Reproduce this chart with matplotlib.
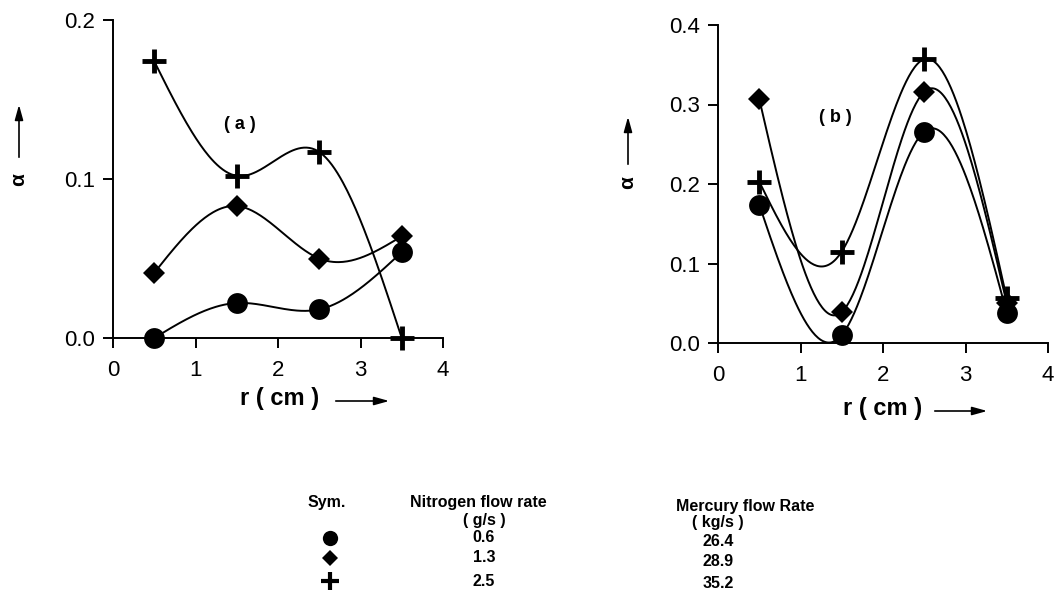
import matplotlib
matplotlib.use("Agg")
import matplotlib.pyplot as plt
import numpy as np

plt.rcParams['font.family'] = ['Liberation Sans', 'DejaVu Sans']

# radial positions (cm)
r = [0.5, 1.5, 2.5, 3.5]

# panel (a) void fraction
a_circle = [0.0, 0.022, 0.018, 0.054]
a_diamond = [0.041, 0.083, 0.050, 0.064]
a_plus = [0.174, 0.102, 0.117, 0.0]

# panel (b) void fraction
b_circle = [0.174, 0.010, 0.266, 0.038]
b_diamond = [0.307, 0.039, 0.316, 0.050]
b_plus = [0.203, 0.115, 0.357, 0.056]

# legend table
nitrogen = ["0.6", "1.3", "2.5"]
mercury = ["26.4", "28.9", "35.2"]

W, H = 1054, 596


def px_axes(fig, x0, y_top, x1, y_bot):
    return fig.add_axes([x0 / W, 1 - y_bot / H, (x1 - x0) / W, (y_bot - y_top) / H])


def smooth(x, y, n=60):
    """natural cubic spline through the points (just for drawing the curve)"""
    x = np.asarray(x, float)
    y = np.asarray(y, float)
    k = len(x)
    h = np.diff(x)
    A = np.zeros((k, k))
    b = np.zeros(k)
    A[0, 0] = A[-1, -1] = 1
    for i in range(1, k - 1):
        A[i, i - 1] = h[i - 1]
        A[i, i] = 2 * (h[i - 1] + h[i])
        A[i, i + 1] = h[i]
        b[i] = 6 * ((y[i + 1] - y[i]) / h[i] - (y[i] - y[i - 1]) / h[i - 1])
    M = np.linalg.solve(A, b)
    xs, ys = [], []
    for i in range(k - 1):
        t = np.linspace(x[i], x[i + 1], n)
        a = (x[i + 1] - t) / h[i]
        c = (t - x[i]) / h[i]
        s = (a * y[i] + c * y[i + 1]
             + ((a ** 3 - a) * M[i] + (c ** 3 - c) * M[i + 1]) * h[i] ** 2 / 6)
        xs.append(t)
        ys.append(s)
    return np.concatenate(xs), np.concatenate(ys)


styles = [
    dict(marker='o', ms=15, mew=0),
    dict(marker='D', ms=11.5, mew=0),
    dict(marker='+', ms=17, mew=3.5),
]


def panel(ax, series, ymax, yticks):
    for ys, st in zip(series, styles):
        xs, yy = smooth(r, ys)
        ax.plot(xs, yy, color='black', lw=1.4, clip_on=False)
        ax.plot(r, ys, linestyle='none', color='black', clip_on=False, **st)
    ax.set_xlim(0, 4)
    ax.set_ylim(0, ymax)
    ax.set_xticks([0, 1, 2, 3, 4])
    ax.set_yticks(yticks)
    ax.set_yticklabels([f"{t:.1f}" for t in yticks])
    for s in ['top', 'right']:
        ax.spines[s].set_visible(False)
    for s in ['left', 'bottom']:
        ax.spines[s].set_linewidth(1.4)
    ax.tick_params(direction='out', length=7, width=1.4, labelsize=16)
    ax.tick_params(axis='x', pad=9)
    ax.tick_params(axis='y', pad=6)
    ax.patch.set_alpha(0)


fig = plt.figure(figsize=(W / 100, H / 100), dpi=100)

ax1 = px_axes(fig, 113, 20, 443, 338)
panel(ax1, [a_circle, a_diamond, a_plus], 0.2, [0.0, 0.1, 0.2])
ax1.text(1.54, 0.134, "( a )", ha='center', va='center', fontsize=13, fontweight='bold')

ax2 = px_axes(fig, 718, 25, 1048, 343)
panel(ax2, [b_circle, b_diamond, b_plus], 0.4, [0.0, 0.1, 0.2, 0.3, 0.4])
ax2.text(1.42, 0.284, "( b )", ha='center', va='center', fontsize=13, fontweight='bold')

# overlay axes in pixel units for labels, arrows and the legend table
ov = fig.add_axes([0, 0, 1, 1])
ov.set_xlim(0, W)
ov.set_ylim(H, 0)
ov.axis('off')

arrow = dict(arrowstyle='-|>,head_length=0.9,head_width=0.25', color='black', lw=1.2)
for xl, yl, x0, x1 in [(280, 398, 333, 392), (883, 408, 932, 990)]:
    ov.text(xl, yl, "r ( cm )", ha='center', va='center', fontsize=17, fontweight='bold')
    ov.annotate("", xy=(x1, yl + 3), xytext=(x0, yl + 3), arrowprops=arrow)
for xa, ya, y0, y1 in [(19, 180, 160, 102), (628, 183, 167, 114)]:
    ov.text(xa, ya, "α", ha='center', va='center', rotation=90, fontsize=15, fontweight='bold')
    ov.annotate("", xy=(xa, y1), xytext=(xa, y0), arrowprops=arrow)

# legend table
tf = dict(ha='center', va='center', fontsize=11.5, fontweight='bold')
ov.text(327, 503, "Sym.", **tf)
ov.text(478, 503, "Nitrogen flow rate", **tf)
ov.text(484, 520, "( g/s )", **tf)
ov.text(745, 506, "Mercury flow Rate", **tf)
ov.text(718, 523, "( kg/s )", **tf)
rows_y = [538, 558, 581]
rows_y2 = [541, 561, 584]
leg_styles = [dict(marker='o', ms=11, mew=0), dict(marker='D', ms=8, mew=0),
              dict(marker='+', ms=13, mew=3)]
for yy, yy2, n, m, st in zip(rows_y, rows_y2, nitrogen, mercury, leg_styles):
    ov.plot([330], [yy], linestyle='none', color='black', **st)
    ov.text(484, yy, n, **tf)
    ov.text(718, yy2, m, **tf)

fig.savefig("out.png", dpi=100)
